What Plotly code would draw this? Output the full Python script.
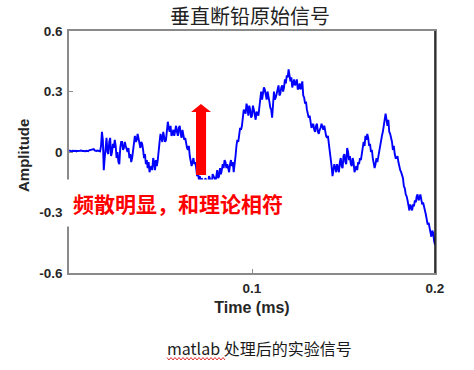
import plotly.graph_objects as go

# ---- data ----
# amplitude at the whole sample points (every 0.001 ms)
amp_main = [
    0.005, 0.004, 0.006, 0.005, 0.003, 0.005, 0.006, 0.004, 0.005, 0.004,
    0.006, 0.008, 0.011, 0.012, 0.008, 0.005, 0.006, 0.003,
    0.10, -0.09, 0.04, 0.0, 0.05, -0.02, 0.04, 0.06, -0.03, -0.05,
    0.02, 0.05, 0.02, 0.03, 0.0, -0.03, -0.05, 0.02, 0.08, 0.06,
    0.07, 0.02, 0.04, -0.03, -0.06, -0.08, -0.10, -0.07, -0.03, -0.09,
    -0.07, 0.02, 0.09, 0.05, 0.08, 0.06, 0.15, 0.10, 0.08, 0.11,
    0.12, 0.10, 0.12, 0.09, 0.11, 0.06, 0.04, 0.01, -0.02, -0.07,
    -0.03, -0.05, -0.12, -0.14, -0.16, -0.14, -0.17, -0.14, -0.16, -0.13,
    -0.15, -0.12, -0.15, -0.09, -0.12, -0.11, -0.06, -0.04, -0.08, -0.09,
    -0.06, -0.07, -0.10, -0.02, 0.06, 0.09, 0.11, 0.17, 0.20, 0.24,
    0.18, 0.21, 0.18, 0.21, 0.16, 0.19, 0.22, 0.30, 0.29, 0.31,
    0.26, 0.28, 0.22, 0.17, 0.30, 0.27, 0.31, 0.28, 0.32, 0.30,
    0.36, 0.38, 0.41, 0.35, 0.32, 0.36, 0.34, 0.31, 0.34, 0.33,
    0.28, 0.24, 0.21, 0.17, 0.15, 0.13, 0.11, 0.13, 0.10, 0.11,
    0.14, 0.11, 0.10, 0.07, 0.04, -0.03, -0.12, -0.06, -0.10, -0.09,
    -0.05, -0.07, -0.02, -0.05, 0.02, -0.04, -0.06, -0.03, -0.10, -0.07,
    -0.05, -0.03, 0.01, 0.05, 0.08, 0.09, 0.03, 0.0, -0.03, -0.08,
    -0.03, -0.02, 0.04, 0.08, 0.14, 0.19, 0.13, 0.10, 0.07, 0.01,
    -0.01, -0.03, -0.05, -0.09, -0.12, -0.17, -0.21, -0.24, -0.29, -0.28,
    -0.26, -0.24, -0.22, -0.24, -0.21, -0.26, -0.28, -0.31, -0.36, -0.38,
    -0.42, -0.40, -0.46,
]
# amplitude at the half-way sample points (between the whole ones)
amp_half = [
    0.007, 0.003, 0.004, 0.006, 0.005, 0.003, 0.007, 0.005, 0.003, 0.006,
    0.004, 0.009, 0.010, 0.014, 0.006, 0.007, 0.004,
    0.03, 0.06, -0.03, 0.07, -0.01, 0.07, 0.00, 0.02, 0.03, 0.00,
    -0.06, 0.05, 0.01, 0.05, 0.01, 0.02, -0.01, -0.03, 0.06, 0.05,
    0.09, 0.04, 0.05, 0.01, -0.01, -0.04, -0.05, -0.08, -0.09, -0.05,
    -0.04, -0.04, 0.05, 0.06, 0.10, 0.05, 0.10, 0.12, 0.13, 0.09,
    0.08, 0.13, 0.08, 0.13, 0.07, 0.09, 0.07, 0.02, 0.03, -0.04,
    -0.05, -0.06, -0.08, -0.10, -0.12, -0.13, -0.16, -0.13, -0.17, -0.12,
    -0.16, -0.11, -0.13, -0.11, -0.13, -0.08, -0.09, -0.08, -0.05, -0.06,
    -0.10, -0.04, -0.05, -0.07, 0.03, 0.05, 0.12, 0.13, 0.21, 0.19,
    0.22, 0.23, 0.17, 0.23, 0.19, 0.20, 0.18, 0.25, 0.26, 0.32,
    0.28, 0.30, 0.25, 0.21, 0.25, 0.26, 0.29, 0.33, 0.29, 0.33,
    0.32, 0.34, 0.37, 0.38, 0.37, 0.34, 0.33, 0.36, 0.32, 0.31,
    0.35, 0.27, 0.25, 0.19, 0.18, 0.12, 0.14, 0.10, 0.14, 0.09,
    0.12, 0.12, 0.13, 0.08, 0.08, 0.01, -0.07, -0.09, -0.08, -0.06,
    -0.10, -0.03, -0.08, -0.01, -0.06, 0.00, -0.02, -0.07, -0.05, -0.08,
    -0.09, -0.06, -0.04, 0.02, 0.03, 0.06, 0.07, 0.04, 0.01, -0.05,
    -0.06, -0.05, 0.00, 0.05, 0.10, 0.15, 0.16, 0.16, 0.09, 0.05,
    0.03, -0.03, -0.02, -0.08, -0.10, -0.13, -0.18, -0.22, -0.27, -0.26,
    -0.29, -0.27, -0.25, -0.21, -0.23, -0.23, -0.25, -0.29, -0.33, -0.35,
    -0.40, -0.39, -0.44,
]
half_step_ms = 0.0005

amplitude = []
for i, v in enumerate(amp_main):
    amplitude.append(v)
    if i < len(amp_half):
        amplitude.append(amp_half[i])
time_ms = [round(i * half_step_ms, 4) for i in range(len(amplitude))]

x_tick_vals = [0.1, 0.2]
x_tick_text = ["0.1", "0.2"]
y_tick_vals = [-0.6, -0.3, 0, 0.3, 0.6]
y_tick_text = ["-0.6", "-0.3", "0", "0.3", "0.6"]

title_text = "垂直断铅原始信号"
note_text = "频散明显，和理论相符"
caption_text = "matlab 处理后的实验信号"

# ---- figure geometry (page body margin removed below) ----
W, H = 474, 370
ML, MR, MT, MB = 69, 39, 31, 97
PW, PH = W - ML - MR, H - MT - MB

def px2paper(px, py):
    # screen pixel -> paper coordinates
    return (px - ML) / PW, (H - MB - py) / PH

fig = go.Figure()
fig.add_trace(go.Scatter(x=time_ms, y=amplitude, mode="lines",
                         line=dict(color="#0000ff", width=1.9),
                         hoverinfo="skip", showlegend=False))

tickfont = dict(family="Liberation Sans, Arial", size=13.5, color="#262626", weight="bold")
axis_common = dict(showgrid=False, zeroline=False, showline=True, linecolor="#8a8a8a",
                   linewidth=1.5, mirror=True, ticks="inside", ticklen=4,
                   tickcolor="#8a8a8a", tickwidth=1.2, tickfont=tickfont,
                   ticklabelstandoff=2)

fig.update_xaxes(range=[0, 0.2], tickvals=x_tick_vals, ticktext=x_tick_text,
                 title=dict(text="Time (ms)", standoff=7,
                            font=dict(family="Liberation Sans, Arial", size=16,
                                      color="#262626", weight="bold")),
                 **axis_common)
fig.update_yaxes(range=[-0.6, 0.6], tickvals=y_tick_vals, ticktext=y_tick_text,
                 **axis_common)

# red arrow (data coordinates)
arrow_path = ("M 0.0694,-0.114 L 0.0749,-0.114 L 0.0749,0.198 L 0.0776,0.198 "
              "L 0.0721,0.238 L 0.0667,0.198 L 0.0694,0.198 Z")
shapes = [
    dict(type="path", xref="x", yref="y", path=arrow_path,
         fillcolor="#ff0000", line=dict(width=0), layer="above"),
    dict(type="line", xref="paper", yref="paper", x0=1, x1=1, y0=0, y1=1,
         line=dict(color="#111111", width=1.5)),
]

# red wavy underline under "matlab"
pts = []
px = 167
i = 0
while px <= 226:
    py = 357.5 if i % 2 == 0 else 360
    pts.append(px2paper(px, py))
    px += 2
    i += 1
wave = "M " + " L ".join(f"{a:.4f},{b:.4f}" for a, b in pts)
shapes.append(dict(type="path", xref="paper", yref="paper", path=wave,
                   line=dict(color="#e03030", width=1)))

ax_t, ay_t = px2paper(23, 156)
cx, cy = px2paper(259, 348)
annotations = [
    dict(x=0.0596, y=-0.253, xref="x", yref="y", text=note_text, showarrow=False,
         font=dict(family="Noto Sans CJK SC", size=21, color="#ff0000", weight="bold"),
         bgcolor="#ffffff", borderpad=8),
    dict(x=ax_t, y=ay_t, xref="paper", yref="paper", text="Amplitude", textangle=-90,
         xanchor="center", yanchor="middle", showarrow=False,
         font=dict(family="Liberation Sans, Arial", size=15, color="#262626", weight="bold")),
    dict(x=cx, y=cy, xref="paper", yref="paper", text=caption_text, showarrow=False,
         xanchor="center", yanchor="middle",
         font=dict(family="Noto Sans CJK SC", size=16, color="#1a1a1a")),
]

tx, _ = px2paper(250, 0)
fig.update_layout(
    width=W, height=H,
    margin=dict(l=ML, r=MR, t=MT, b=MB),
    paper_bgcolor="#ffffff", plot_bgcolor="#ffffff",
    title=dict(text=title_text, x=tx, xref="paper", xanchor="center",
               y=1 - 16.5 / H, yref="container", yanchor="middle",
               font=dict(family="Noto Sans CJK SC", size=20, color="#222222")),
    shapes=shapes, annotations=annotations,
)

fig.write_html("out.html",
               config={"displayModeBar": False},
               post_script="document.body.style.margin='0';document.body.style.padding='0';")
